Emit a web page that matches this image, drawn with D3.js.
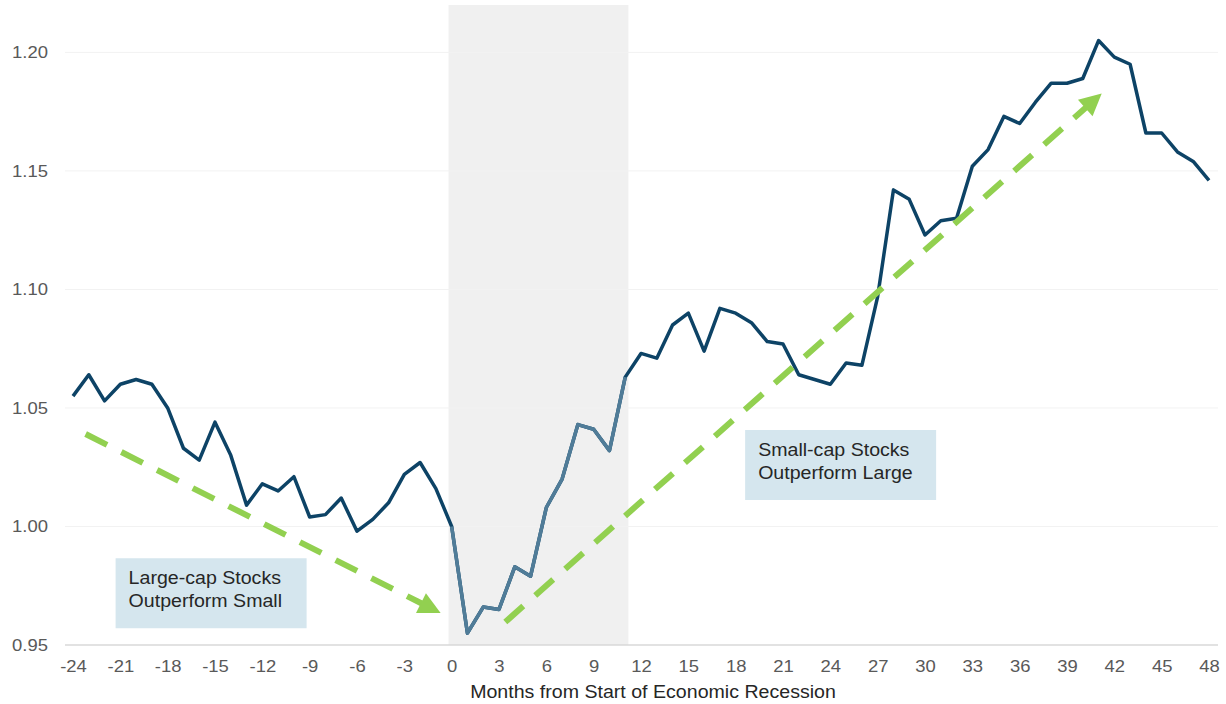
<!DOCTYPE html>
<html>
<head>
<meta charset="utf-8">
<script src="https://cdn.jsdelivr.net/npm/d3@7"></script>
<style>
  html, body { margin: 0; padding: 0; background: #ffffff; }
  svg { display: block; font-family: "Liberation Sans", Arial, sans-serif; }
</style>
</head>
<body>
<svg id="chart" width="1226" height="704"></svg>
<script>
// ---- data ----
const months = d3.range(-24, 49);
const relativePerformance = [
  1.055, 1.064, 1.053, 1.060, 1.062, 1.060, 1.050, 1.033, 1.028, 1.044,
  1.030, 1.009, 1.018, 1.015, 1.021, 1.004, 1.005, 1.012, 0.998, 1.003,
  1.010, 1.022, 1.027, 1.016, 1.000, 0.955, 0.966, 0.965, 0.983, 0.979,
  1.008, 1.020, 1.043, 1.041, 1.032, 1.063, 1.073, 1.071, 1.085, 1.090,
  1.074, 1.092, 1.090, 1.086, 1.078, 1.077, 1.064, 1.062, 1.060, 1.069,
  1.068, 1.097, 1.142, 1.138, 1.123, 1.129, 1.130, 1.152, 1.159, 1.173,
  1.170, 1.179, 1.187, 1.187, 1.189, 1.205, 1.198, 1.195, 1.166, 1.166,
  1.158, 1.154, 1.146
];
const xTicks = d3.range(-24, 49, 3);
const yTicks = [0.95, 1.00, 1.05, 1.10, 1.15, 1.20];
const recession = [-0.2, 11.2];
const recessionLine = [0, 11];
const xTitle = "Months from Start of Economic Recession";
const arrowDown = [[-23.2, 1.039], [-0.7, 0.9635]];
const arrowUp = [[3.4, 0.9597], [41.2, 1.1827]];
const labelLarge = { at: [-21.3, 0.9866], lines: ["Large-cap Stocks", "Outperform Small"] };
const labelSmall = { at: [18.6, 1.0407], lines: ["Small-cap Stocks", "Outperform Large"] };

// ---- chart ----
const svg = d3.select("#chart");
const x = d3.scaleLinear().domain([-24, 48]).range([73, 1209]);
const y = d3.scaleLinear().domain([0.95, 1.22]).range([645, 5]);
const points = months.map((m, i) => ({ m, v: relativePerformance[i] }));
const stretch = "scale(1.12,1)";

// recession band
svg.append("rect")
  .attr("x", x(recession[0])).attr("y", y(1.22))
  .attr("width", x(recession[1]) - x(recession[0]))
  .attr("height", y(0.95) - y(1.22))
  .attr("fill", "#f0f0f0");

// gridlines
svg.append("g").selectAll("line")
  .data(yTicks.filter(t => t > 0.95))
  .join("line")
  .attr("x1", 65).attr("x2", 1218)
  .attr("y1", d => y(d)).attr("y2", d => y(d))
  .attr("stroke", "#f2f2f2").attr("stroke-width", 1);

// y axis
const yAxis = svg.append("g").attr("transform", "translate(48,0)")
  .call(d3.axisLeft(y).tickValues(yTicks).tickFormat(d3.format(".2f")).tickSize(0).tickPadding(0));
yAxis.select(".domain").remove();
yAxis.selectAll("text").attr("font-size", 16.5).attr("fill", "#595959")
  .attr("font-family", "Liberation Sans, Arial, sans-serif")
  .attr("transform", stretch);

// x axis
const xAxis = svg.append("g").attr("transform", `translate(0,${y(0.95)})`)
  .call(d3.axisBottom(x).tickValues(xTicks).tickFormat(d3.format("d")).tickSize(0).tickPadding(15));
xAxis.select(".domain").remove();
xAxis.selectAll("text").attr("font-size", 16.5).attr("fill", "#595959")
  .attr("font-family", "Liberation Sans, Arial, sans-serif")
  .attr("transform", stretch)
  .text(d => d < 0 ? "-" + Math.abs(d) : String(d));
svg.append("line").attr("x1", 65).attr("x2", 1218)
  .attr("y1", y(0.95)).attr("y2", y(0.95))
  .attr("stroke", "#d9d9d9").attr("stroke-width", 1.5);

svg.append("text").attr("transform", `translate(653,698) ${stretch}`).attr("text-anchor", "middle")
  .attr("font-size", 17.5).attr("fill", "#262626").text(xTitle);

// line
const line = d3.line().x(d => x(d.m)).y(d => y(d.v));
svg.append("path").datum(points)
  .attr("d", line).attr("fill", "none")
  .attr("stroke", "#0d4366").attr("stroke-width", 3.5).attr("stroke-linejoin", "round");
svg.append("path").datum(points.filter(d => d.m >= recessionLine[0] && d.m <= recessionLine[1]))
  .attr("d", line).attr("fill", "none")
  .attr("stroke", "#507c98").attr("stroke-width", 3.5).attr("stroke-linejoin", "round");

// arrows
function arrow(a) {
  const x1 = x(a[0][0]), y1 = y(a[0][1]), x2 = x(a[1][0]), y2 = y(a[1][1]);
  const dx = x2 - x1, dy = y2 - y1, len = Math.hypot(dx, dy);
  const ux = dx / len, uy = dy / len;
  const headLen = 22, headW = 11;
  const bx = x2 - ux * headLen, by = y2 - uy * headLen;
  svg.append("line").attr("x1", x1).attr("y1", y1).attr("x2", bx + ux * 2).attr("y2", by + uy * 2)
    .attr("stroke", "#92d050").attr("stroke-width", 6).attr("stroke-dasharray", "24,16");
  svg.append("path")
    .attr("d", `M${x2},${y2}L${bx - uy * headW},${by + ux * headW}L${bx + uy * headW},${by - ux * headW}Z`)
    .attr("fill", "#92d050");
}
arrow(arrowDown);
arrow(arrowUp);

// labels
function label(l) {
  const bx = x(l.at[0]), by = y(l.at[1]);
  svg.append("rect").attr("x", bx).attr("y", by).attr("width", 191).attr("height", 70)
    .attr("fill", "#d5e6ee");
  l.lines.forEach((s, i) => svg.append("text")
    .attr("transform", `translate(${bx + 13},${by + 26 + i * 23}) ${stretch}`)
    .attr("font-size", 17.5).attr("fill", "#262626").text(s));
}
label(labelLarge);
label(labelSmall);
</script>
</body>
</html>
